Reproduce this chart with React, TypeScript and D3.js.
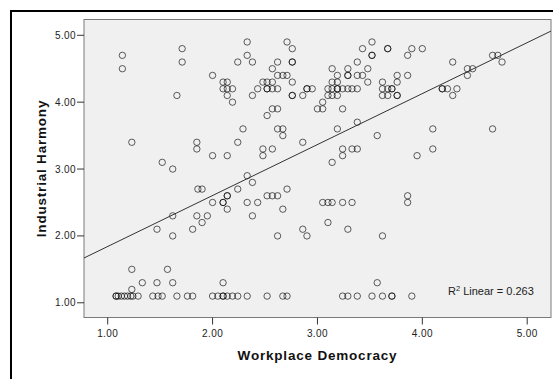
import * as d3 from "d3";

// axis setup
const xTicks = [1, 2, 3, 4, 5];
const yTicks = [1, 2, 3, 4, 5];
const xDomain: [number, number] = [0.774, 5.227];
const yDomain: [number, number] = [0.78, 5.236];

// Industrial Harmony levels, and the Workplace Democracy scores seen at each level
const harmonyLevels = [
  4.9, 4.8, 4.7, 4.6, 4.5, 4.4, 4.3, 4.2, 4.1, 4.0, 3.9, 3.8, 3.7, 3.6, 3.5, 3.4, 3.3, 3.2, 3.1, 3.0,
  2.9, 2.8, 2.7, 2.6, 2.5, 2.4, 2.3, 2.2, 2.1, 2.0, 1.5, 1.3, 1.2, 1.1,
];
const democracyAtLevel = [
  [2.33, 2.71, 3.52],
  [1.71, 2.76, 3.43, 3.67, 3.67, 3.9, 4.0],
  [1.14, 2.33, 3.52, 3.52, 3.86, 4.67, 4.72],
  [1.71, 2.24, 2.38, 2.62, 2.76, 2.76, 3.38, 4.29, 4.76],
  [1.14, 2.57, 3.14, 3.29, 3.48, 4.43, 4.48],
  [2.0, 2.62, 2.67, 2.71, 3.19, 3.29, 3.29, 3.38, 3.43, 3.76, 3.86, 4.43],
  [2.1, 2.14, 2.48, 2.52, 2.57, 2.76, 3.14, 3.19, 3.48, 3.62, 3.76],
  [2.1, 2.14, 2.19, 2.43, 2.52, 2.52, 2.57, 2.62, 2.9, 2.9, 2.95, 3.1, 3.14, 3.19, 3.19, 3.24, 3.29,
    3.33, 3.38, 3.62, 3.67, 3.71, 3.71, 4.19, 4.19, 4.24, 4.33],
  [1.66, 2.14, 2.38, 2.76, 2.76, 2.86, 3.1, 3.14, 3.19, 3.62, 3.67, 3.76, 3.76, 4.29],
  [2.19, 3.05],
  [2.57, 2.62, 3.0, 3.05, 3.24],
  [2.52],
  [3.38],
  [2.29, 2.62, 2.67, 3.19, 4.1, 4.67],
  [2.67, 3.57],
  [1.23, 1.85, 2.24, 2.86],
  [1.85, 2.48, 2.57, 3.24, 3.33, 3.38, 4.1],
  [2.0, 2.14, 2.48, 3.24, 3.95],
  [1.52, 3.14],
  [1.62],
  [2.33],
  [2.38],
  [1.86, 1.9, 2.24, 2.71],
  [2.14, 2.14, 2.52, 2.57, 2.62, 3.86],
  [2.0, 2.1, 2.1, 2.33, 2.43, 3.05, 3.1, 3.14, 3.24, 3.33, 3.86],
  [2.14, 2.67],
  [1.62, 1.85, 1.95, 2.38],
  [1.9, 3.1],
  [1.47, 1.81, 2.86, 3.29],
  [1.62, 2.62, 2.9, 3.62],
  [1.23, 1.57],
  [1.33, 1.47, 1.62, 2.1, 3.57],
  [1.23],
  [1.08, 1.08, 1.1, 1.13, 1.16, 1.19, 1.22, 1.24, 1.29, 1.43, 1.48, 1.52, 1.66, 1.76, 1.81, 2.0, 2.05,
    2.1, 2.1, 2.14, 2.19, 2.24, 2.33, 2.52, 2.67, 2.71, 3.24, 3.29, 3.38, 3.52, 3.62, 3.71, 3.71, 3.9],
];

// linear fit line as drawn
const fitIntercept = 1.08;
const fitSlope = 0.762;
const rSquared = "0.263";

const W = 553;
const H = 379;
const plot = { left: 84, top: 19.5, right: 551, bottom: 317.5 };
const font = "'Liberation Sans', Arial, sans-serif";

export default function App() {
  const x = d3.scaleLinear().domain(xDomain).range([plot.left, plot.right]);
  const y = d3.scaleLinear().domain(yDomain).range([plot.bottom, plot.top]);
  const fmt = d3.format(".2f");

  const points = harmonyLevels.flatMap((h, i) => democracyAtLevel[i].map((d) => ({ d, h })));

  const fitLine = d3
    .line<number>()
    .x((v) => x(v))
    .y((v) => y(fitIntercept + fitSlope * v))(xDomain);

  return (
    <div style={{ position: "absolute", left: 0, top: 0 }}>
      <svg width={W} height={H} style={{ display: "block", fontFamily: font }}>
        <rect x={0} y={0} width={W} height={H} fill="#fff" />
        {/* outer frame */}
        <rect x={11} y={11} width={600} height={420} fill="none" stroke="#000" strokeWidth={2} />

        {/* plot area */}
        <rect
          x={plot.left}
          y={plot.top}
          width={plot.right - plot.left}
          height={plot.bottom - plot.top}
          fill="#f0f0f0"
          stroke="#7a7a7a"
          strokeWidth={1}
        />

        {/* y axis */}
        {yTicks.map((t) => (
          <g key={"y" + t}>
            <line x1={plot.left - 7} x2={plot.left} y1={y(t)} y2={y(t)} stroke="#333" />
            <text
              x={plot.left - 8}
              y={y(t)}
              dy="0.35em"
              textAnchor="end"
              fontSize={10}
              letterSpacing={0.4}
              fill="#222"
            >
              {fmt(t)}
            </text>
          </g>
        ))}

        {/* x axis */}
        {xTicks.map((t) => (
          <g key={"x" + t}>
            <line x1={x(t)} x2={x(t)} y1={plot.bottom} y2={plot.bottom + 7} stroke="#333" />
            <text x={x(t)} y={plot.bottom + 19} textAnchor="middle" fontSize={10} letterSpacing={0.4} fill="#222">
              {fmt(t)}
            </text>
          </g>
        ))}

        {/* points */}
        {points.map((p, i) => (
          <circle
            key={i}
            cx={x(p.d)}
            cy={y(p.h)}
            r={3.2}
            fill="none"
            stroke="#000"
            strokeOpacity={0.62}
            strokeWidth={1}
          />
        ))}

        {/* fit line */}
        <path d={fitLine || ""} fill="none" stroke="#333" strokeWidth={1} />

        <text x={448} y={295} fontSize={11} fill="#222">
          R<tspan fontSize={7.5} dy={-4.5}>2</tspan>
          <tspan dy={4.5}> Linear = {rSquared}</tspan>
        </text>

        {/* axis titles */}
        <text
          x={(plot.left + plot.right) / 2}
          y={360}
          textAnchor="middle"
          fontSize={13.5}
          fontWeight="bold"
          letterSpacing={0.8}
          fill="#111"
        >
          Workplace Democracy
        </text>
        <text
          transform={`translate(45.5,${(plot.top + plot.bottom) / 2}) rotate(-90)`}
          textAnchor="middle"
          fontSize={13.5}
          fontWeight="bold"
          letterSpacing={0.8}
          fill="#111"
        >
          Industrial Harmony
        </text>
      </svg>
    </div>
  );
}
